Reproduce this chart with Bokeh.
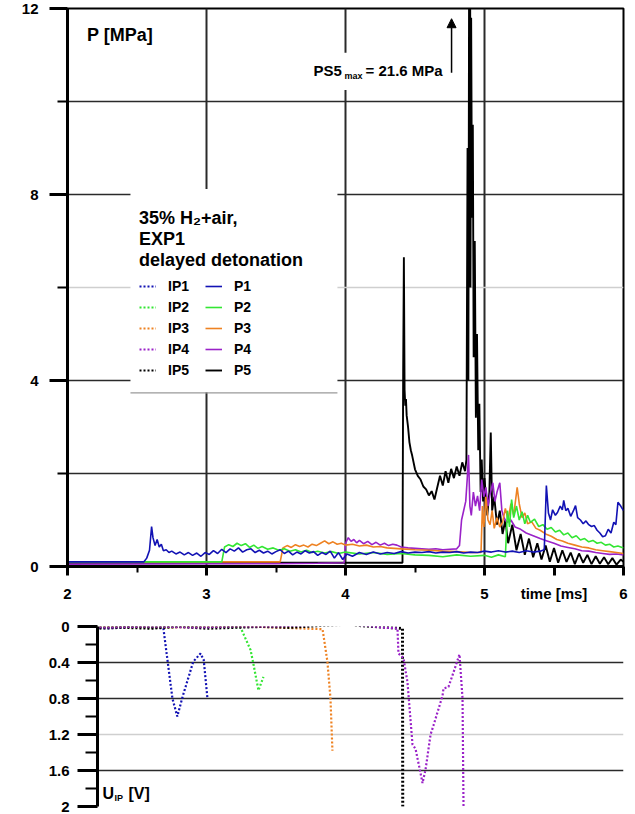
from bokeh.plotting import figure
from bokeh.layouts import column, row
from bokeh.models import (Range1d, FixedTicker, Grid, Legend, LegendItem, Label,
                          Arrow, NormalHead, BoxAnnotation)
from bokeh.embed import file_html
from bokeh.resources import INLINE

FONT = "Liberation Sans"
NAN = float("nan")

# ---------------- top panel: pressure P [MPa] vs time [ms] ----------------
P1_t = [2.00, 2.55, 2.57, 2.59, 2.605, 2.615, 2.63, 2.645, 2.66, 2.675, 2.69, 2.71, 2.73, 2.75, 2.78, 2.81,
        2.84, 2.87, 2.90, 2.93, 2.96, 2.99, 3.02, 3.05, 3.08, 3.11, 3.14, 3.17, 3.20, 3.23, 3.26, 3.29,
        3.32, 3.35, 3.38, 3.41, 3.44, 3.47, 3.50, 3.53, 3.56, 3.59, 3.62, 3.65, 3.68, 3.71, 3.74, 3.77,
        3.80, 3.83, 3.86, 3.89, 3.92, 3.95, 3.98, 4.01, 4.05, 4.10, 4.15, 4.20, 4.25, 4.30, 4.35, 4.40,
        4.45, 4.50, 4.55, 4.60, 4.65, 4.70, 4.75, 4.80, 4.85, 4.90, 4.95, 5.00, 5.05, 5.10, 5.15, 5.20,
        5.25, 5.30, 5.35, 5.40, 5.43, 5.445, 5.46, 5.475, 5.49, 5.51, 5.525, 5.545, 5.56, 5.57, 5.585, 5.60,
        5.62, 5.64, 5.655, 5.67, 5.69, 5.71, 5.73, 5.75, 5.77, 5.79, 5.81, 5.83, 5.85, 5.87, 5.89, 5.91,
        5.93, 5.945, 5.96, 5.98, 6.00]
P1_v = [0.10, 0.10, 0.18, 0.35, 0.86, 0.62, 0.45, 0.58, 0.42, 0.48, 0.34, 0.36, 0.30, 0.33, 0.27, 0.31,
        0.25, 0.30, 0.24, 0.29, 0.22, 0.30, 0.26, 0.34, 0.28, 0.37, 0.30, 0.38, 0.33, 0.40, 0.31, 0.36,
        0.38, 0.30, 0.35, 0.29, 0.33, 0.27, 0.32, 0.36, 0.28, 0.33, 0.25, 0.31, 0.27, 0.34, 0.29, 0.32,
        0.24, 0.30, 0.26, 0.33, 0.18, 0.30, 0.15, 0.27, 0.22, 0.30, 0.26, 0.31, 0.27, 0.30, 0.28, 0.32,
        0.29, 0.31, 0.30, 0.32, 0.29, 0.31, 0.30, 0.32, 0.29, 0.31, 0.30, 0.33, 0.31, 0.34, 0.31, 0.33,
        0.30, 0.34, 0.31, 0.33, 0.36, 1.74, 1.15, 1.00, 1.22, 1.10, 1.16, 1.30, 1.22, 1.42, 1.20, 1.25,
        1.08, 1.20, 1.31, 1.05, 1.00, 0.92, 0.98, 0.90, 0.86, 0.88, 0.78, 0.72, 0.64, 0.66, 0.80, 0.72,
        0.95, 0.90, 1.38, 1.30, 1.20]

P2_t = [2.00, 3.11, 3.13, 3.16, 3.19, 3.22, 3.25, 3.28, 3.31, 3.34, 3.37, 3.40, 3.44, 3.48, 3.52, 3.56,
        3.60, 3.64, 3.68, 3.72, 3.76, 3.80, 3.85, 3.90, 3.95, 4.00, 4.10, 4.20, 4.30, 4.40, 4.50, 4.60,
        4.70, 4.80, 4.90, 5.00, 5.05, 5.10, 5.15, 5.165, 5.18, 5.195, 5.21, 5.23, 5.25, 5.27, 5.29, 5.31,
        5.33, 5.36, 5.39, 5.42, 5.45, 5.48, 5.51, 5.54, 5.57, 5.60, 5.63, 5.66, 5.69, 5.72, 5.75, 5.78,
        5.81, 5.84, 5.87, 5.90, 5.93, 5.96, 6.00]
P2_v = [0.10, 0.10, 0.42, 0.47, 0.43, 0.50, 0.45, 0.49, 0.41, 0.46, 0.39, 0.43, 0.37, 0.40, 0.35, 0.38,
        0.33, 0.36, 0.31, 0.35, 0.30, 0.33, 0.29, 0.32, 0.28, 0.31, 0.27, 0.30, 0.26, 0.28, 0.25, 0.24,
        0.21, 0.25, 0.22, 0.24, 0.20, 0.25, 0.21, 1.20, 0.85, 1.44, 1.05, 1.30, 1.00, 1.18, 0.92, 1.10,
        0.95, 1.02, 0.86, 0.90, 0.80, 0.84, 0.74, 0.78, 0.68, 0.72, 0.62, 0.66, 0.57, 0.60, 0.53, 0.56,
        0.50, 0.52, 0.46, 0.48, 0.42, 0.44, 0.40]

P3_t = [2.00, 3.53, 3.55, 3.58, 3.61, 3.64, 3.67, 3.70, 3.73, 3.76, 3.79, 3.82, 3.85, 3.88, 3.91, 3.94,
        3.97, 4.00, 4.05, 4.10, 4.15, 4.20, 4.25, 4.30, 4.40, 4.50, 4.60, 4.70, 4.80, 4.90, 4.975, 4.985,
        4.995, 5.01, 5.025, 5.04, 5.055, 5.07, 5.09, 5.11, 5.13, 5.15, 5.17, 5.19, 5.21, 5.235, 5.25, 5.27,
        5.29, 5.31, 5.34, 5.37, 5.40, 5.44, 5.48, 5.52, 5.56, 5.60, 5.65, 5.70, 5.75, 5.80, 5.85, 5.90,
        5.95, 6.00]
P3_v = [0.10, 0.10, 0.40, 0.45, 0.41, 0.47, 0.43, 0.46, 0.42, 0.48, 0.45, 0.50, 0.55, 0.49, 0.53, 0.48,
        0.50, 0.46, 0.48, 0.44, 0.46, 0.42, 0.43, 0.40, 0.38, 0.36, 0.35, 0.33, 0.32, 0.30, 0.30, 1.30,
        0.85, 1.50, 1.00, 0.90, 1.20, 0.82, 1.05, 0.85, 0.95, 1.25, 1.00, 1.35, 1.10, 1.70, 1.35, 1.05,
        1.15, 0.92, 0.96, 0.82, 0.78, 0.70, 0.65, 0.58, 0.55, 0.50, 0.46, 0.42, 0.40, 0.36, 0.34, 0.32,
        0.30, 0.28]

P4_t = [2.00, 3.50, 3.80, 3.99, 4.00, 4.02, 4.04, 4.06, 4.08, 4.10, 4.13, 4.16, 4.19, 4.22, 4.25, 4.28,
        4.31, 4.34, 4.37, 4.40, 4.45, 4.50, 4.55, 4.60, 4.65, 4.70, 4.75, 4.80, 4.82, 4.835, 4.85, 4.865,
        4.875, 4.885, 4.895, 4.905, 4.92, 4.935, 4.95, 4.965, 4.98, 4.995, 5.01, 5.025, 5.04, 5.06, 5.075,
        5.09, 5.11, 5.125, 5.14, 5.16, 5.19, 5.22, 5.26, 5.30, 5.35, 5.40, 5.45, 5.50, 5.55, 5.60, 5.65,
        5.70, 5.75, 5.80, 5.85, 5.90, 5.95, 6.00]
P4_v = [0.05, 0.06, 0.07, 0.08, 0.50, 0.62, 0.54, 0.58, 0.51, 0.56, 0.49, 0.54, 0.47, 0.52, 0.46, 0.50,
        0.45, 0.48, 0.46, 0.42, 0.40, 0.39, 0.38, 0.37, 0.38, 0.36, 0.37, 0.38, 0.45, 1.00, 1.20, 1.40,
        1.85, 2.40, 1.30, 1.10, 1.60, 1.30, 1.52, 1.20, 1.87, 1.50, 1.70, 1.30, 1.55, 1.80, 1.40,
        1.60, 1.80, 1.20, 1.05, 0.95, 1.00, 0.85, 0.80, 0.72, 0.66, 0.60, 0.55, 0.50, 0.44, 0.41, 0.38,
        0.34, 0.33, 0.30, 0.28, 0.26, 0.27, 0.25]

P5_t = [2.00, 4.41, 4.415, 4.42, 4.425, 4.43, 4.435, 4.44, 4.45, 4.46, 4.47, 4.48, 4.50, 4.52, 4.54, 4.56,
        4.58, 4.60, 4.62, 4.64, 4.66, 4.68, 4.70, 4.72, 4.74, 4.76, 4.78, 4.80, 4.82, 4.84, 4.86, 4.87,
        4.878, 4.884, 4.889, 4.894, 4.899, 4.904, 4.91, 4.916, 4.922, 4.93, 4.938, 4.946, 4.955, 4.963,
        4.972, 4.98, 4.99, 5.00, 5.02, 5.035, 5.045, 5.055, 5.07, 5.09, 5.11, 5.13, 5.15, 5.17, 5.20,
        5.23, 5.26, 5.29, 5.32, 5.35, 5.38, 5.41, 5.44, 5.47, 5.50, 5.53, 5.56, 5.59, 5.62, 5.65, 5.68,
        5.71, 5.74, 5.77, 5.80, 5.83, 5.86, 5.89, 5.92, 5.95, 5.98, 6.00]
P5_v = [0.08, 0.08, 4.20, 6.65, 3.80, 3.46, 3.60, 3.25, 3.00, 2.67, 2.50, 2.38, 2.09, 1.95, 1.87, 1.72,
        1.66, 1.53, 1.62, 1.44, 1.70, 1.95, 1.74, 2.05, 1.80, 2.10, 1.90, 2.15, 1.95, 2.24, 2.05, 2.30,
        9.0, 4.0, 12.5, 21.6, 6.0, 11.8, 7.5, 9.5, 4.5, 7.0, 3.2, 5.0, 2.5, 3.5,
        1.6, 2.3, 1.4, 1.9, 1.1, 1.6, 2.88, 1.2, 1.5, 0.9, 1.2, 0.7, 1.0, 0.5, 0.9,
        0.35, 0.7, 0.25, 0.6, 0.2, 0.5, 0.15, 0.45, 0.1, 0.4, 0.08, 0.35, 0.1, 0.3, 0.05, 0.28,
        0.08, 0.25, 0.05, 0.22, 0.06, 0.2, 0.05, 0.18, 0.04, 0.15, 0.1]

# ---------------- bottom panel: ionisation probe signal U_IP [V] ----------------
IP1_t = [2.00, 2.30, 2.50, 2.69, 2.71, 2.755, 2.79, 2.83, 2.905, 2.957, 2.98, 3.007]
IP1_v = [0.00, 0.02, 0.00, 0.02, 0.26, 0.80, 1.00, 0.77, 0.39, 0.30, 0.37, 0.80]
IP2_t = [2.00, 2.60, 3.00, 3.245, 3.317, 3.338, 3.374, 3.41]
IP2_v = [0.00, 0.01, 0.00, 0.01, 0.26, 0.42, 0.71, 0.56]
IP3_t = [2.00, 2.70, 3.30, 3.835, 3.87, 3.892, 3.906]
IP3_v = [0.00, 0.01, 0.00, 0.03, 0.39, 0.80, 1.38]
IP4_t = [2.00, 2.30, 2.60, 2.90, 3.20, 3.50, 3.80, 4.00, 4.05, 4.15, 4.25, 4.35, 4.374, 4.381, 4.417,
         4.446, 4.482, 4.504, 4.54, 4.554, 4.576, 4.612, 4.633, 4.698, 4.705, 4.741, 4.777, 4.82, 4.842,
         4.849, 4.852]
IP4_v = [0.00, 0.01, 0.00, 0.01, 0.00, 0.00, -0.02, -0.04, -0.02, -0.01, 0.01, 0.02, 0.02, 0.30, 0.35,
         0.62, 1.31, 1.36, 1.63, 1.74, 1.59, 1.20, 1.10, 0.77, 0.69, 0.67, 0.51, 0.31, 0.80,
         1.99, 2.20]
IP5_t = [2.00, 2.20, 2.40, 2.60, 2.80, 3.00, 3.20, 3.40, 3.60, 3.80, 3.95, 4.02, 4.10, 4.20, 4.30, 4.40,
         4.41, 4.412]
IP5_v = [0.01, 0.02, 0.01, 0.02, 0.00, 0.02, 0.01, 0.00, 0.01, -0.01, -0.02, -0.03, -0.01, 0.00, 0.01, 0.02,
         0.02, 2.20]

COLORS = ["#1212b4", "#33e633", "#ee8222", "#9a22c8", "#000000"]
P_T = [P1_t, P2_t, P3_t, P4_t, P5_t]
P_V = [P1_v, P2_v, P3_v, P4_v, P5_v]
IP_T = [IP1_t, IP2_t, IP3_t, IP4_t, IP5_t]
IP_V = [IP1_v, IP2_v, IP3_v, IP4_v, IP5_v]
P_NAMES = ["P1", "P2", "P3", "P4", "P5"]
IP_NAMES = ["IP1", "IP2", "IP3", "IP4", "IP5"]

X_TICKS = [2, 3, 4, 5, 5.5, 6]
X_LABELS = {2: "2", 3: "3", 4: "4", 5: "5", 5.5: "time [ms]", 6: "6"}
Y_TICKS = [0, 4, 8, 12]
Y_MINOR = [2, 6, 10]
U_TICKS = [0, 0.4, 0.8, 1.2, 1.6, 2.0]
U_MINOR = [0.2, 0.6, 1.0, 1.4, 1.8]
U_LABELS = {0: "0", 0.4: "0.4", 0.8: "0.8", 1.2: "1.2", 1.6: "1.6", 2: "2"}
U_T0 = 2.216   # first time shown in the U_IP panel (its axis line)

GRID = "#2a2a2a"
LIGHT = "#cfcfcf"

# ====================== top figure ======================
p = figure(width=635, height=612, x_range=Range1d(2, 6), y_range=Range1d(0, 12),
           output_backend="svg", toolbar_location=None,
           min_border_left=67, min_border_right=12, min_border_top=8, min_border_bottom=46)
p.background_fill_color = "white"
p.border_fill_color = "white"
p.outline_line_color = "black"
p.outline_line_width = 2

p.xgrid.ticker = FixedTicker(ticks=[3, 4, 5])
p.xgrid.grid_line_color = GRID
p.xgrid.grid_line_width = 2
p.ygrid.ticker = FixedTicker(ticks=[2, 4, 8, 10])
p.ygrid.grid_line_color = GRID
p.ygrid.grid_line_width = 1.5
p.add_layout(Grid(dimension=1, ticker=FixedTicker(ticks=[6]), grid_line_color=LIGHT, grid_line_width=1.5))

for ax in (p.xaxis[0], p.yaxis[0]):
    ax.axis_line_width = 3
    ax.axis_line_color = "black"
    ax.major_tick_line_width = 3
    ax.minor_tick_line_width = 2
    ax.major_tick_in = 0
    ax.minor_tick_in = 0
    ax.major_label_text_font = FONT
    ax.major_label_text_font_style = "bold"
    ax.major_label_text_font_size = "15px"
    ax.major_label_text_color = "black"

p.xaxis.ticker = FixedTicker(ticks=X_TICKS, minor_ticks=[2.5, 3.5, 4.5])
p.xaxis.major_label_overrides = X_LABELS
p.xaxis.major_tick_out = 9
p.xaxis.minor_tick_out = 6
p.xaxis.major_label_standoff = 9

p.yaxis.ticker = FixedTicker(ticks=Y_TICKS, minor_ticks=Y_MINOR)
p.yaxis.major_tick_out = 18
p.yaxis.minor_tick_out = 10
p.yaxis.major_label_standoff = 11

# traces: black first, blue on top
p_renderers = [None] * 5
for i in [4, 3, 2, 1, 0]:
    p_renderers[i] = p.line(P_T[i], P_V[i], line_color=COLORS[i], line_width=1.9 if i == 4 else 1.6)

# white panel behind the legend, with its thin grey lower edge
p.add_layout(BoxAnnotation(left=2.453, right=3.942, bottom=3.745, top=8.12,
                           fill_color="white", fill_alpha=1.0, line_color=None))
p.add_layout(BoxAnnotation(left=2.453, right=3.942, bottom=3.722, top=3.745,
                           fill_color="#9a9a9a", fill_alpha=1.0, line_color=None))

# legend: P items use the real traces, IP items use style-only placeholders (no visible data)
ip_items, p_items = [], []
for i in range(5):
    r_ip = p.line([NAN], [NAN], line_color=COLORS[i], line_width=2.2, line_dash="2 2")
    ip_items.append(LegendItem(label=IP_NAMES[i], renderers=[r_ip]))
    p_items.append(LegendItem(label=P_NAMES[i], renderers=[p_renderers[i]]))

legend = Legend(items=ip_items + p_items, ncols=2, location=(72, 187),
                title="35% H\u2082+air,\nEXP1\ndelayed detonation",
                title_text_font=FONT, title_text_font_style="bold", title_text_font_size="18px",
                title_text_color="black", title_standoff=6,
                label_text_font=FONT, label_text_font_style="bold", label_text_font_size="14px",
                label_text_color="black",
                glyph_width=17, glyph_height=18, label_height=18, label_width=34, label_standoff=12,
                spacing=3, padding=12, margin=0,
                border_line_color=None,
                background_fill_color="white", background_fill_alpha=1.0)
p.add_layout(legend)

p.add_layout(Label(x=2.14, y=11.44, text="P [MPa]", text_font=FONT, text_font_style="bold",
                   text_font_size="18px", text_baseline="middle", text_color="black"))

# PS5max annotation
p.add_layout(BoxAnnotation(left=3.76, right=4.735, bottom=10.25, top=11.05,
                           fill_color="white", fill_alpha=1.0, line_color=None))
p.add_layout(Label(x=3.77, y=10.67, text="PS5", text_font=FONT, text_font_style="bold",
                   text_font_size="15px", text_baseline="middle", text_color="black"))
p.add_layout(Label(x=3.77, y=10.67, x_offset=31, y_offset=-6, text="max", text_font=FONT,
                   text_font_style="bold", text_font_size="9px", text_baseline="middle",
                   text_color="black"))
p.add_layout(Label(x=3.77, y=10.67, x_offset=52, text="= 21.6 MPa", text_font=FONT,
                   text_font_style="bold", text_font_size="15px", text_baseline="middle",
                   text_color="black"))
p.add_layout(Arrow(end=NormalHead(size=9, fill_color="black", line_color="black"),
                   x_start=4.763, y_start=10.62, x_end=4.763, y_end=11.78,
                   line_color="black", line_width=1.5))

# ====================== bottom figure ======================
q = figure(width=635, height=202, x_range=Range1d(U_T0, 6), y_range=Range1d(2, 0),
           output_backend="svg", toolbar_location=None,
           min_border_left=97, min_border_right=12, min_border_top=14, min_border_bottom=8)
q.background_fill_color = "white"
q.border_fill_color = "white"
q.outline_line_color = None
q.xaxis.visible = False
q.xgrid.visible = False
q.ygrid.ticker = FixedTicker(ticks=[0, 0.4, 0.8, 1.6, 2.0])
q.ygrid.grid_line_color = GRID
q.ygrid.grid_line_width = 1.5
q.add_layout(Grid(dimension=1, ticker=FixedTicker(ticks=[1.2]), grid_line_color=LIGHT,
                  grid_line_width=1.5))

ya = q.yaxis[0]
ya.ticker = FixedTicker(ticks=U_TICKS, minor_ticks=U_MINOR)
ya.major_label_overrides = U_LABELS
ya.axis_line_width = 3
ya.major_tick_line_width = 3
ya.minor_tick_line_width = 2
ya.major_tick_in = 0
ya.minor_tick_in = 0
ya.major_tick_out = 20
ya.minor_tick_out = 12
ya.major_label_standoff = 8
ya.major_label_text_font = FONT
ya.major_label_text_font_style = "bold"
ya.major_label_text_font_size = "15px"
ya.major_label_text_color = "black"

for i in [0, 1, 2, 4, 3]:
    w = 3 if i == 4 else 2.2
    q.line(IP_T[i], IP_V[i], line_color=COLORS[i], line_width=w, line_dash="2 2")

q.add_layout(Label(x=2.252, y=1.86, text="U", text_font=FONT, text_font_style="bold",
                   text_font_size="16px", text_baseline="middle", text_color="black"))
q.add_layout(Label(x=2.252, y=1.86, x_offset=12, y_offset=-4, text="IP", text_font=FONT,
                   text_font_style="bold", text_font_size="9px", text_baseline="middle",
                   text_color="black"))
q.add_layout(Label(x=2.252, y=1.86, x_offset=26, text="[V]", text_font=FONT, text_font_style="bold",
                   text_font_size="16px", text_baseline="middle", text_color="black"))

layout = column(p, row(q), spacing=0)
open("out.html", "w").write(file_html(layout, INLINE))
